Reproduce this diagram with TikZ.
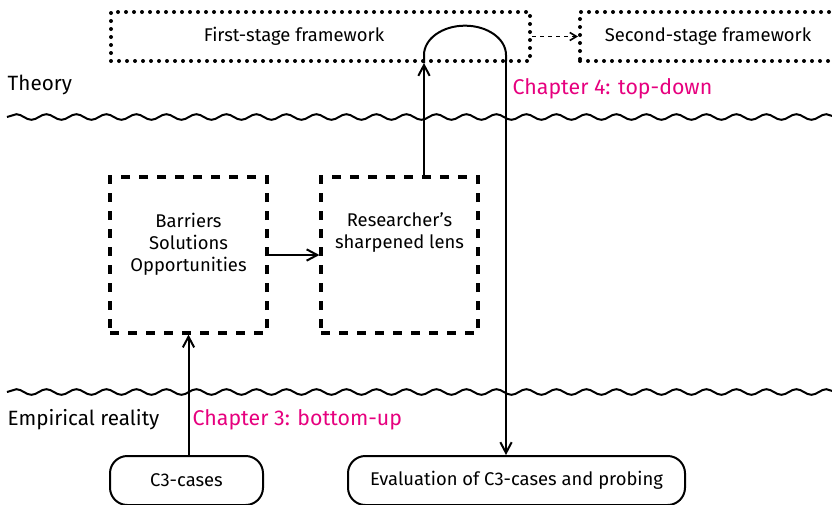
\documentclass[tikz,border=0pt]{standalone}
\usepackage{fontspec}
\setmainfont{Fira Sans}
\usetikzlibrary{arrows.meta,positioning,calc,decorations.pathmorphing}
\definecolor{chapcolor}{RGB}{230,0,126}

\begin{document}
\begin{tikzpicture}[x=0.75pt,y=-0.75pt,
    every node/.style={font=\fontsize{13.8}{16.5}\selectfont},
    framebox/.style={draw, line width=3pt, line cap=round,
      dash pattern=on 0pt off 6pt, minimum height=36.75pt, inner sep=0pt},
    stagebox/.style={draw, line width=2.4pt, dash pattern=on 6.5pt off 7pt,
      minimum width=117.75pt, minimum height=117pt, inner sep=0pt},
    casebox/.style={draw, line width=1.5pt, rounded corners=13pt,
      minimum height=36.75pt, inner sep=0pt},
    conn/.style={line width=1.5pt, -{Straight Barb[length=8pt,width=8.5pt]}},
    wave/.style={line width=1.5pt, decorate,
      decoration={snake, segment length=22.5pt, amplitude=2.1pt}},
    chap/.style={chapcolor, anchor=west, font=\fontsize{16}{18}\selectfont},
    realm/.style={anchor=west, font=\fontsize{15.5}{18}\selectfont}]
  \useasboundingbox (0,0) rectangle (832,504);
  % theory level
  \node[framebox, minimum width=314.25pt] (first) at (320.5,36.5) {};
  \node (firsttext) at (294,36.5) {First-stage framework};
  \node[framebox, minimum width=192pt] (second) at (708,36.5) {Second-stage framework};
  \draw[line width=1.2pt, dash pattern=on 3pt off 3pt,
        -{Straight Barb[length=5pt,width=6pt]}] (first.east) -- (second.west);
  \node[realm] (theory) at (3,85) {Theory};
  \node[chap] (ch4) at (508,89) {Chapter 4: top-down};
  \draw[wave] (7,117) -- (836,117);
  % analysis in between
  \node[stagebox] (bso) at (188.5,255) {};
  \node[stagebox] (lens) at (399.5,255) {};
  \node[anchor=north, align=center] (bsotext) at (bso.north |- 0,208) {Barriers\\Solutions\\Opportunities};
  \node[anchor=north, align=center] (lenstext) at (lens.north |- 0,208) {Researcher’s\\sharpened lens};
  \draw[conn] (bso.east) -- (lens.west |- bso.east);
  \coordinate (up) at (424,177);
  \coordinate (down) at (506,61);
  \draw[conn] (up) -- (up |- first.south);
  \draw[line width=1.5pt] (up |- first.south) -- ++(0,-8)
    arc[start angle=180, end angle=0, x radius=30.75pt, y radius=22pt] -- (down);
  % empirical level
  \draw[wave] (7,392) -- (836,392);
  \node[realm] (empirical) at (3,420) {Empirical reality};
  \node[chap] (ch3) at (188,420) {Chapter 3: bottom-up};
  \node[casebox, minimum width=114.75pt] (cases) at (186.5,480.5) {C3-cases};
  \node[casebox, minimum width=252.75pt] (eval) at (516.5,480.5) {Evaluation of C3-cases and probing};
  \draw[conn] (cases.north -| bso.south) -- (bso.south);
  \draw[conn] (down) -- (down |- eval.north);
\end{tikzpicture}
\end{document}
